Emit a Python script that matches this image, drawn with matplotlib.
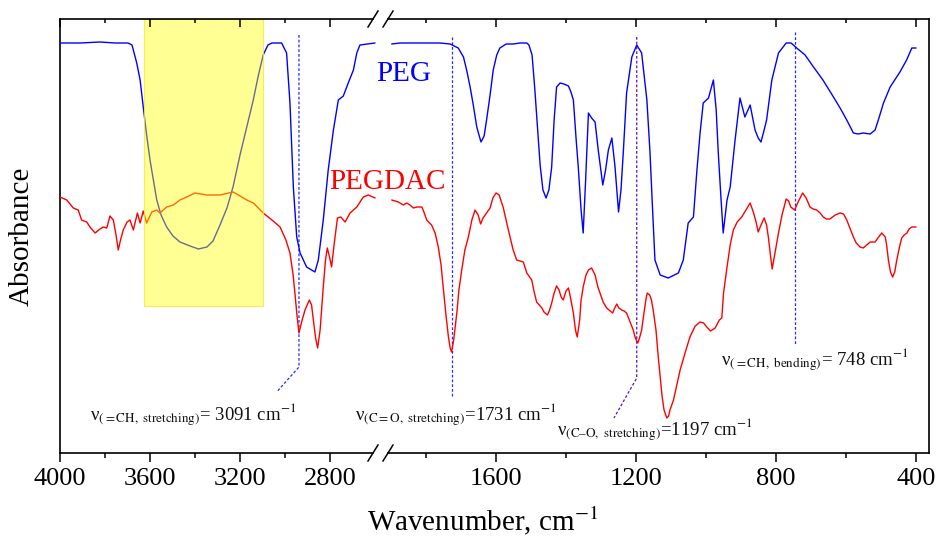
import numpy as np
import matplotlib
matplotlib.use("Agg")
import matplotlib.pyplot as plt
from matplotlib.lines import Line2D

plt.rcParams['font.family'] = ['Liberation Serif', 'DejaVu Serif']
plt.rcParams['mathtext.fontset'] = 'stix'

# ---------------- data (wavenumber, cm-1 / absorbance, a.u.) ----------------
peg_hi_wn = [4000, 3911, 3822, 3756, 3698, 3680, 3659, 3644, 3630, 3615, 3600, 3570, 3551, 3526,
             3498, 3467, 3422, 3385, 3347, 3320, 3289, 3258, 3231, 3200, 3170, 3141, 3119, 3097,
             3076, 3058, 3015, 2993, 2978, 2963, 2948, 2933, 2904, 2867, 2852, 2830, 2808, 2785,
             2763, 2741, 2719, 2696, 2681, 2667, 2600]
peg_hi_abs = [4.10, 4.10, 4.11, 4.10, 4.10, 4.08, 3.90, 3.73, 3.46, 3.18, 2.93, 2.53, 2.38, 2.26,
              2.17, 2.11, 2.07, 2.04, 2.06, 2.12, 2.28, 2.45, 2.66, 2.98, 3.26, 3.53, 3.77, 3.98,
              4.08, 4.10, 4.10, 4.00, 3.50, 2.66, 2.16, 2.00, 1.86, 1.81, 1.93, 2.33, 2.83, 3.23,
              3.53, 3.57, 3.70, 3.83, 4.00, 4.08, 4.10]

peg_lo_wn = [1898, 1874, 1817, 1760, 1731, 1708, 1693, 1684, 1674, 1665, 1655, 1643, 1634, 1627,
             1617, 1608, 1598, 1589, 1571, 1551, 1531, 1512, 1506, 1497, 1489, 1483, 1474, 1466,
             1457, 1449, 1441, 1434, 1427, 1417, 1406, 1393, 1386, 1379, 1371, 1365, 1357, 1351,
             1344, 1336, 1327, 1317, 1308, 1295, 1287, 1279, 1269, 1260, 1250, 1243, 1236, 1227,
             1212, 1198, 1184, 1169, 1160, 1154, 1146, 1131, 1108, 1079, 1065, 1051, 1036, 1026,
             1017, 1008, 993, 979, 971, 965, 957, 951, 940, 931, 917, 903, 889, 874, 860, 851,
             843, 834, 827, 812, 793, 771, 757, 741, 717, 693, 666, 636, 617, 598, 579, 566,
             551, 531, 517, 506, 493, 474, 446, 427, 412, 400]
peg_lo_abs = [4.09, 4.10, 4.10, 4.10, 4.09, 4.05, 3.96, 3.83, 3.66, 3.48, 3.26, 3.11, 3.17, 3.33,
              3.58, 3.83, 3.98, 4.05, 4.09, 4.09, 4.10, 4.10, 4.08, 3.98, 3.63, 3.33, 2.88, 2.63,
              2.55, 2.63, 2.86, 3.33, 3.66, 3.70, 3.69, 3.67, 3.61, 3.53, 3.13, 2.86, 2.43, 2.20,
              2.73, 3.40, 3.35, 3.31, 3.03, 2.68, 2.83, 3.03, 3.15, 2.86, 2.41, 2.63, 3.03, 3.60,
              3.96, 4.08, 4.00, 3.53, 3.00, 2.53, 1.93, 1.78, 1.75, 1.80, 1.93, 2.30, 2.36, 2.83,
              3.20, 3.50, 3.55, 3.73, 3.43, 3.00, 2.53, 2.20, 2.53, 2.66, 3.13, 3.55, 3.36, 3.48,
              3.23, 3.15, 3.11, 3.23, 3.33, 3.73, 4.00, 4.10, 4.10, 4.05, 3.98, 3.86, 3.73, 3.56,
              3.45, 3.33, 3.20, 3.19, 3.20, 3.19, 3.23, 3.35, 3.50, 3.66, 3.81, 3.93, 4.05, 4.05]

dac_hi_wn = [4000, 3970, 3941, 3919, 3904, 3881, 3867, 3844, 3822, 3808, 3792, 3778, 3763, 3751,
             3741, 3731, 3719, 3702, 3689, 3674, 3656, 3644, 3630, 3615, 3592, 3570, 3556, 3526,
             3496, 3467, 3437, 3400, 3348, 3289, 3230, 3170, 3141, 3097, 3058, 3022, 2996, 2978,
             2964, 2956, 2947, 2938, 2924, 2911, 2892, 2882, 2874, 2864, 2855, 2844, 2830, 2820,
             2812, 2802, 2793, 2782, 2767, 2752, 2733, 2711, 2681, 2652, 2630, 2596]
dac_hi_abs = [2.56, 2.53, 2.45, 2.43, 2.33, 2.31, 2.26, 2.20, 2.24, 2.26, 2.25, 2.37, 2.33, 2.18,
              2.03, 2.13, 2.23, 2.31, 2.33, 2.23, 2.40, 2.30, 2.42, 2.30, 2.41, 2.43, 2.40, 2.46,
              2.48, 2.53, 2.56, 2.60, 2.58, 2.58, 2.61, 2.53, 2.50, 2.40, 2.33, 2.26, 2.13, 2.00,
              1.78, 1.60, 1.38, 1.20, 1.33, 1.43, 1.53, 1.48, 1.33, 1.15, 1.05, 1.23, 1.66, 1.93,
              2.05, 1.96, 1.86, 2.08, 2.35, 2.36, 2.31, 2.40, 2.46, 2.56, 2.58, 2.55]

dac_lo_wn = [1898, 1879, 1865, 1855, 1846, 1836, 1826, 1812, 1806, 1798, 1784, 1774, 1765, 1757,
             1751, 1743, 1736, 1731, 1727, 1721, 1712, 1706, 1698, 1689, 1679, 1669, 1660, 1651,
             1644, 1637, 1627, 1617, 1609, 1600, 1591, 1579, 1570, 1560, 1551, 1541, 1531, 1522,
             1512, 1508, 1498, 1491, 1484, 1469, 1463, 1453, 1447, 1441, 1434, 1427, 1420, 1414,
             1408, 1400, 1393, 1387, 1379, 1373, 1368, 1361, 1357, 1351, 1343, 1336, 1327, 1317,
             1309, 1303, 1294, 1284, 1274, 1267, 1261, 1255, 1249, 1241, 1234, 1227, 1217, 1208,
             1202, 1195, 1190, 1184, 1177, 1171, 1168, 1161, 1156, 1151, 1143, 1137, 1131, 1126,
             1120, 1112, 1107, 1103, 1093, 1084, 1074, 1060, 1046, 1031, 1017, 1007, 998, 987,
             974, 962, 955, 950, 940, 931, 922, 911, 898, 886, 874, 865, 857, 851, 843, 834,
             827, 822, 816, 811, 804, 793, 783, 771, 764, 758, 747, 737, 724, 714, 703, 694,
             684, 674, 665, 656, 646, 631, 617, 607, 598, 589, 579, 571, 560, 551, 541, 531,
             517, 507, 498, 488, 484, 479, 473, 467, 461, 455, 448, 441, 434, 426, 420, 412, 400]
dac_lo_abs = [2.53, 2.51, 2.48, 2.50, 2.48, 2.45, 2.46, 2.46, 2.41, 2.33, 2.28, 2.20, 2.06, 1.88,
              1.66, 1.38, 1.16, 1.05, 1.01, 1.13, 1.40, 1.63, 1.83, 2.03, 2.16, 2.33, 2.43, 2.38,
              2.29, 2.35, 2.40, 2.45, 2.55, 2.60, 2.58, 2.45, 2.31, 2.16, 2.03, 1.93, 1.92, 1.91,
              1.80, 1.78, 1.73, 1.61, 1.51, 1.45, 1.41, 1.38, 1.43, 1.50, 1.60, 1.67, 1.63, 1.56,
              1.53, 1.62, 1.65, 1.55, 1.40, 1.23, 1.16, 1.33, 1.53, 1.66, 1.78, 1.83, 1.85, 1.78,
              1.66, 1.60, 1.51, 1.45, 1.42, 1.40, 1.45, 1.49, 1.45, 1.43, 1.42, 1.40, 1.31, 1.23,
              1.15, 1.10, 1.15, 1.23, 1.41, 1.55, 1.60, 1.58, 1.53, 1.43, 1.23, 0.98, 0.76, 0.58,
              0.43, 0.35, 0.37, 0.43, 0.53, 0.67, 0.83, 1.00, 1.16, 1.27, 1.31, 1.30, 1.26, 1.22,
              1.25, 1.33, 1.35, 1.60, 1.86, 2.08, 2.23, 2.31, 2.36, 2.43, 2.50, 2.41, 2.31, 2.21,
              2.28, 2.35, 2.28, 2.16, 1.98, 1.84, 1.98, 2.20, 2.38, 2.54, 2.52, 2.46, 2.43, 2.51,
              2.60, 2.55, 2.46, 2.44, 2.43, 2.40, 2.36, 2.34, 2.34, 2.38, 2.40, 2.39, 2.33, 2.25,
              2.16, 2.10, 2.06, 2.05, 2.08, 2.11, 2.11, 2.16, 2.20, 2.16, 2.08, 1.93, 1.81, 1.76,
              1.81, 1.93, 2.05, 2.15, 2.18, 2.20, 2.24, 2.26, 2.26]

# highlighted band (wavenumber range) and band annotations
band_wn = [3627, 3098]
band_abs = [1.47, 4.34]
ann_wn = [2938, 1727, 1198, 747]
ann_top = [4.18, 4.16, 4.16, 4.21]
ann_bottom = [0.86, 0.56, 0.75, 1.08]
ann_leader_end_wn = [3037, None, 1263, None]
ann_leader_end_abs = [0.61, None, 0.35, None]
ann_labels = [r'ν$_{\mathrm{({=}CH,\ stretching)}}$= 3091 cm$^{\mathrm{-1}}$',
              r'ν$_{\mathrm{(C{=}O,\ stretching)}}$=1731 cm$^{\mathrm{-1}}$',
              r'ν$_{\mathrm{(C–O,\ stretching)}}$=1197 cm$^{\mathrm{-1}}$',
              r'ν$_{\mathrm{({=}CH,\ bending)}}$= 748 cm$^{\mathrm{-1}}$']
ann_colors = ['#2828ff', '#2828ff', '#5a10c8', '#2828ff']

major_ticks = [4000, 3600, 3200, 2800, 1600, 1200, 800, 400]
minor_ticks = [3800, 3400, 3000, 1800, 1400, 1000, 600]


# ---------------- broken wavenumber scale (increasing in wavenumber) ----------------
def fwd(w):
    w = np.asarray(w, dtype=float)
    return -np.where(w >= 2600, (4000 - w) * 0.225,
                     np.where(w >= 1900, 315 + (2600 - w) * (16 / 700),
                              331 + (1900 - w) * 0.35))


def inv(u):
    u = -np.asarray(u, dtype=float)
    return np.where(u <= 315, 4000 - u / 0.225,
                    np.where(u <= 331, 2600 - (u - 315) * 700 / 16,
                             1900 - (u - 331) / 0.35))


W, H = 937, 538
fig = plt.figure(figsize=(W / 100, H / 100), dpi=100)
L, R, T, B = 60, 929, 19, 453
ax = fig.add_axes([L / W, 1 - B / H, (R - L) / W, (B - T) / H])

ax.set_xscale('function', functions=(fwd, inv))
ax.set_xlim(4000, 363)
ax.set_ylim(0, 4.34)

line_kw = dict(lw=1.0, zorder=3, solid_joinstyle='round', solid_capstyle='round')
ax.plot(peg_hi_wn, peg_hi_abs, color='#0000ff', **line_kw)
ax.plot(peg_lo_wn, peg_lo_abs, color='#0000ff', **line_kw)
ax.plot(dac_hi_wn, dac_hi_abs, color='#ff0000', **line_kw)
ax.plot(dac_lo_wn, dac_lo_abs, color='#ff0000', **line_kw)

ax.fill_between(band_wn, band_abs[0], band_abs[1], facecolor=(1, 1, 0, 0.42),
                edgecolor=(0.93, 0.93, 0.2, 0.8), lw=0.8, zorder=4)

for i in range(len(ann_wn)):
    xs = [ann_wn[i], ann_wn[i]]
    ys = [ann_top[i], ann_bottom[i]]
    if ann_leader_end_wn[i] is not None:
        xs.append(ann_leader_end_wn[i])
        ys.append(ann_leader_end_abs[i])
    ax.plot(xs, ys, color=ann_colors[i], lw=0.9, ls=(0, (2.2, 1.6)), zorder=2)

# texts
ax.text(0.3636, 0.857, 'PEG', transform=ax.transAxes, color='#0000ff', fontsize=21,
        ha='left', va='baseline')
ax.text(0.3096, 0.608, 'PEGDAC', transform=ax.transAxes, color='#ff0000', fontsize=21,
        ha='left', va='baseline')
ann_pos = [(0.0345, 0.076), (0.3395, 0.076), (0.572, 0.0415), (0.7606, 0.203)]
for (px, py), lab in zip(ann_pos, ann_labels):
    ax.text(px, py, lab, transform=ax.transAxes, fontsize=13.5, ha='left', va='baseline',
            color='#111111')

# axes styling
ax.set_yticks([])
ax.set_xticks(major_ticks)
ax.set_xticklabels([str(t) for t in major_ticks])
ax.set_xticks(minor_ticks, minor=True)
ax.tick_params(axis='x', which='major', direction='out', length=6.5, width=1.1,
               labelsize=19, pad=4, colors='black')
ax.tick_params(axis='x', which='minor', direction='out', length=3.6, width=1.1)
for s in ['top', 'bottom']:
    ax.spines[s].set_visible(False)
for s in ['left', 'right']:
    ax.spines[s].set_linewidth(1.2)

# top ticks (inward) on a twin axis
ax2 = ax.twiny()
ax2.set_xscale('function', functions=(fwd, inv))
ax2.set_xlim(4000, 363)
ax2.set_xticks(major_ticks)
ax2.set_xticks(minor_ticks, minor=True)
ax2.tick_params(axis='x', which='major', direction='in', length=5.8, width=1.1,
                labeltop=False, top=True, bottom=False)
ax2.tick_params(axis='x', which='minor', direction='in', length=2.9, width=1.1,
                top=True, bottom=False)
for s in ax2.spines.values():
    s.set_visible(False)

# broken frame lines with // marks
g0, g1 = (373 - L) / (R - L), (388 - L) / (R - L)
dx, dy = 5 / (R - L), 8 / (B - T)
for yy in (0, 1):
    for xa, xb in ((0, g0), (g1, 1)):
        ax.add_line(Line2D([xa, xb], [yy, yy], transform=ax.transAxes, color='black',
                           lw=1.2, clip_on=False, zorder=6))
    for xc in (g0, g1):
        ax.add_line(Line2D([xc - dx, xc + dx], [yy - dy, yy + dy], transform=ax.transAxes,
                           color='black', lw=1.1, clip_on=False, zorder=6))

fig.text(483 / W, 1 - 530 / H, 'Wavenumber, cm$^{\\mathrm{-1}}$', fontsize=21, ha='center',
         va='baseline')
fig.text(22 / W, 1 - 236 / H, 'Absorbance', fontsize=21, rotation=90, ha='center',
         va='center')

fig.savefig('out.png', dpi=100)
